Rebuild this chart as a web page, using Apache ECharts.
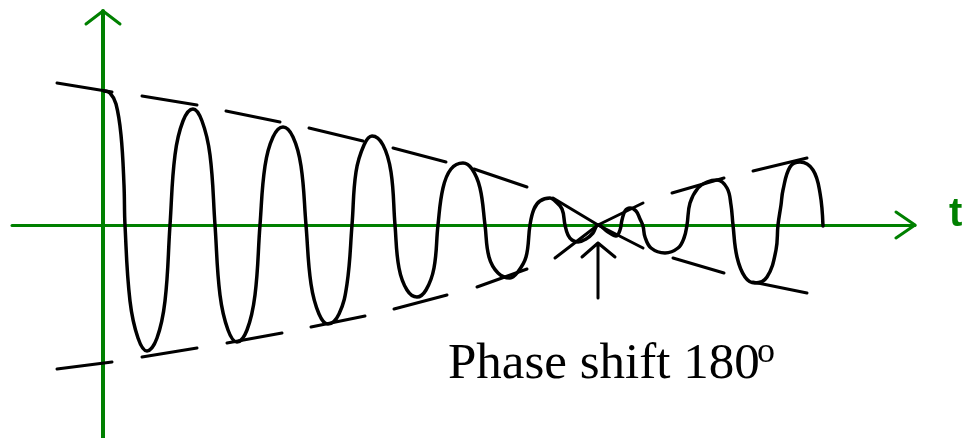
<!DOCTYPE html>
<html>
<head>
<meta charset="utf-8">
<script src="https://cdn.jsdelivr.net/npm/echarts@6/dist/echarts.min.js"></script>
<style>
    html, body { margin: 0; padding: 0; background: #fff; }
    #chart { width: 966px; height: 438px; }
</style>
</head>
<body>
<div id="chart"></div>
<script>
// time / amplitude (origin where the green axes cross)
var wavePoints = [
    [1, 134], [7, 132], [13, 121], [18, 90], [21, 40], [22, 0],
    [27, -76], [35, -113], [44, -126], [54, -113], [62, -76], [67, 0],
    [72, 70], [80, 104], [90, 116], [99, 104], [107, 70], [112, 0],
    [117, -70], [125, -105], [134, -117], [144, -105], [152, -70], [157, 0],
    [162, 59], [170, 88], [180, 98], [190, 88], [198, 59], [203, 0],
    [208, -59], [216, -89], [225, -99], [236, -89], [244, -59], [249, 0],
    [253, 53], [261, 80], [269, 89], [280, 80], [288, 53], [292, 0],
    [296, -43], [304, -65], [314, -72], [323, -65], [331, -43], [335, 0],
    [340, 37], [348, 56], [360, 62], [369, 56], [377, 37], [382, 0],
    [386, -32], [395, -48], [407, -53], [414, -48], [423, -32], [427, 0],
    [431, 16], [437, 24], [447, 27], [452, 24], [459, 16], [462, 0],
    [465, -10], [469, -15], [475, -17], [483, -14], [490, -8], [495, 0],
    [505, -7], [513, -11], [517, -5], [519, 5], [522, 14], [527, 17], [533, 14], [537, 6], [540, -1],
    [542, -12], [548, -23], [562, -28], [575, -23], [581, -13], [584, 0],
    [587, 22], [595, 37], [604, 43], [614, 45], [624, 37], [628, 20], [630, 0],
    [634, -32], [642, -52], [652, -58], [664, -52], [673, -25], [675, 0],
    [678, 20], [680, 35], [687, 58], [697, 63], [710, 55], [717, 32], [720, -1]
];

// dashes of the envelope, one list of points per dash
var upperDashes = [
    [[-46, 142], [9, 133]],
    [[39, 129], [94, 120]],
    [[123, 114], [177, 103]],
    [[206, 97], [260, 84]],
    [[290, 77], [343, 63]],
    [[371, 56], [424, 38]],
    [[450, 27], [495, 0], [540, -23]],
    [[570, -33], [621, -48]],
    [[650, -57], [704, -68]]
];
var lowerDashes = [
    [[-46, -144], [9, -137]],
    [[39, -132], [94, -123]],
    [[124, -118], [179, -108]],
    [[208, -102], [262, -91]],
    [[291, -84], [344, -70]],
    [[374, -62], [424, -44]],
    [[452, -33], [495, 0], [540, 22]],
    [[569, 32], [621, 47]],
    [[650, 54], [704, 67]]
];

var phaseArrow = [[[479, -32], [495, -18], [512, -32]], [[495, -18], [495, -73]]];
var yArrowHead = [[-17, 201], [0, 214], [17, 201]];
var xArrowHead = [[793, 13], [812, 0], [793, -13]];

var tRange = [-91, 812];
var aRange = [-213, 214];
var green = '#008000';

function joinSegments(segs) {
    var out = [];
    for (let i = 0; i < segs.length; i++) {
        if (i > 0) out.push(null);
        for (let j = 0; j < segs[i].length; j++) out.push(segs[i][j]);
    }
    return out;
}

function plainLine(name, data, color, width, smooth) {
    return {
        name: name,
        type: 'line',
        data: data,
        smooth: smooth || false,
        showSymbol: false,
        connectNulls: false,
        clip: false,
        silent: true,
        lineStyle: { color: color, width: width, cap: 'round', join: 'round' }
    };
}

var chart = echarts.init(document.getElementById('chart'));

var option = {
    animation: false,
    grid: { left: 12, right: 51, top: 11, bottom: 0, containLabel: false },
    xAxis: {
        type: 'value',
        min: tRange[0],
        max: tRange[1],
        name: 't',
        nameLocation: 'end',
        nameGap: 34,
        nameTextStyle: {
            color: green,
            fontSize: 40,
            fontWeight: 'bold',
            fontFamily: 'Liberation Sans',
            verticalAlign: 'bottom',
            lineHeight: 20
        },
        axisLine: { onZero: true, lineStyle: { color: green, width: 3 } },
        axisTick: { show: false },
        axisLabel: { show: false },
        splitLine: { show: false }
    },
    yAxis: {
        type: 'value',
        min: aRange[0],
        max: aRange[1],
        axisLine: { show: true, onZero: true, lineStyle: { color: green, width: 4 } },
        axisTick: { show: false },
        axisLabel: { show: false },
        splitLine: { show: false }
    },
    series: [
        plainLine('upper envelope', joinSegments(upperDashes), '#000', 3),
        plainLine('lower envelope', joinSegments(lowerDashes), '#000', 3),
        plainLine('wave', wavePoints, '#000', 3.5, 0.4),
        plainLine('phase arrow', joinSegments(phaseArrow), '#000', 3),
        plainLine('y arrow', yArrowHead, green, 3),
        plainLine('x arrow', xArrowHead, green, 3)
    ],
    graphic: [
        {
            type: 'text',
            x: 448,
            y: 365,
            style: {
                text: 'Phase shift 180',
                font: '51px "Liberation Serif"',
                fill: '#000',
                align: 'left',
                verticalAlign: 'middle'
            }
        },
        {
            type: 'text',
            x: 757,
            y: 353,
            style: {
                text: 'o',
                font: '36px "Liberation Serif"',
                fill: '#000',
                align: 'left',
                verticalAlign: 'middle'
            }
        }
    ]
};

chart.setOption(option);
</script>
</body>
</html>
